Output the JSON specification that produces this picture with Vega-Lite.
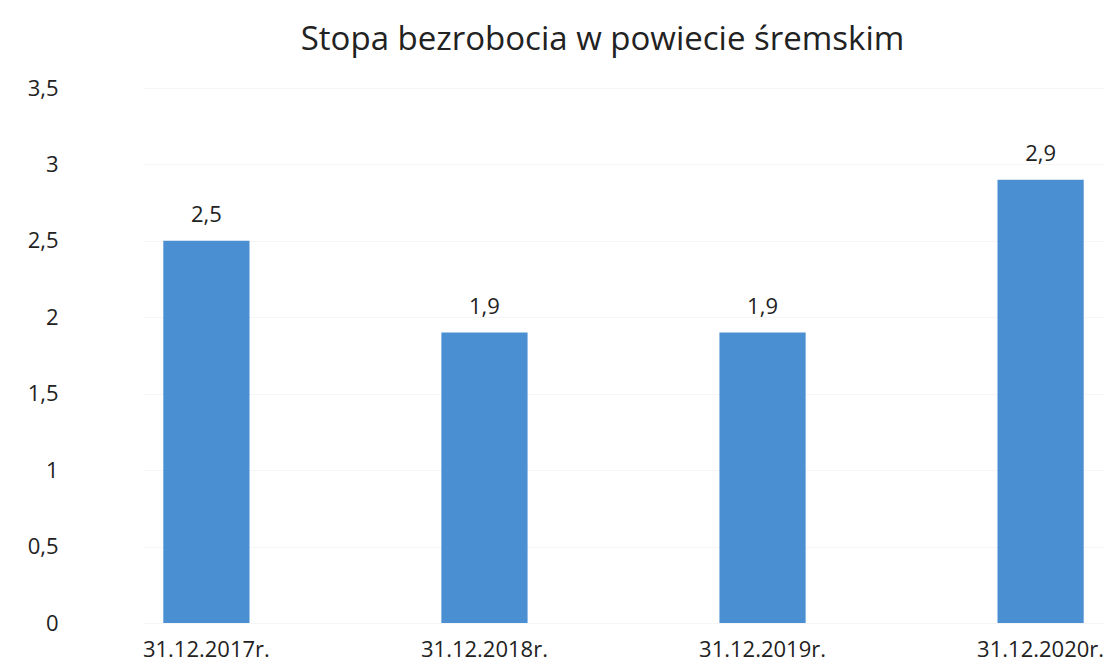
{
  "$schema": "https://vega.github.io/schema/vega-lite/v6.json",
  "width": 961,
  "height": 535,
  "autosize": {"type": "none"},
  "padding": {"left": 143, "top": 88, "right": 0, "bottom": 44},
  "background": "white",
  "title": {
    "text": "Stopa bezrobocia w powiecie śremskim",
    "font": "Open Sans",
    "fontSize": 33,
    "fontWeight": "normal",
    "color": "#222222",
    "anchor": "middle",
    "dx": -21,
    "offset": 20
  },
  "data": {
    "values": [
      {"date": "31.12.2017r.", "value": 2.5},
      {"date": "31.12.2018r.", "value": 1.9},
      {"date": "31.12.2019r.", "value": 1.9},
      {"date": "31.12.2020r.", "value": 2.9}
    ]
  },
  "encoding": {
    "x": {
      "field": "date",
      "type": "nominal",
      "sort": null,
      "scale": {"paddingInner": 0.69, "paddingOuter": 0.073},
      "axis": {
        "title": null,
        "labelAngle": 0,
        "labelFont": "Open Sans",
        "labelFontSize": 22,
        "labelColor": "#222222",
        "labelPadding": 16,
        "ticks": false,
        "domain": false
      }
    },
    "y": {
      "field": "value",
      "type": "quantitative",
      "scale": {"domain": [0, 3.5], "nice": false},
      "axis": {
        "title": null,
        "values": [0, 0.5, 1, 1.5, 2, 2.5, 3, 3.5],
        "format": "~g",
        "labelFont": "Open Sans",
        "labelFontSize": 22,
        "labelColor": "#222222",
        "labelPadding": 85,
        "ticks": false,
        "domain": false,
        "grid": true,
        "gridColor": "#f5f5f5"
      }
    }
  },
  "layer": [
    {"mark": {"type": "bar", "color": "#4b8fd3"}},
    {
      "mark": {"type": "text", "baseline": "bottom", "dy": -14, "font": "Open Sans", "fontSize": 22, "color": "#222222"},
      "encoding": {"text": {"field": "value", "type": "quantitative", "format": "~g"}}
    }
  ],
  "config": {
    "view": {"stroke": null},
    "locale": {"number": {"decimal": ",", "thousands": " ", "grouping": [3], "currency": ["", " zł"]}}
  }
}
